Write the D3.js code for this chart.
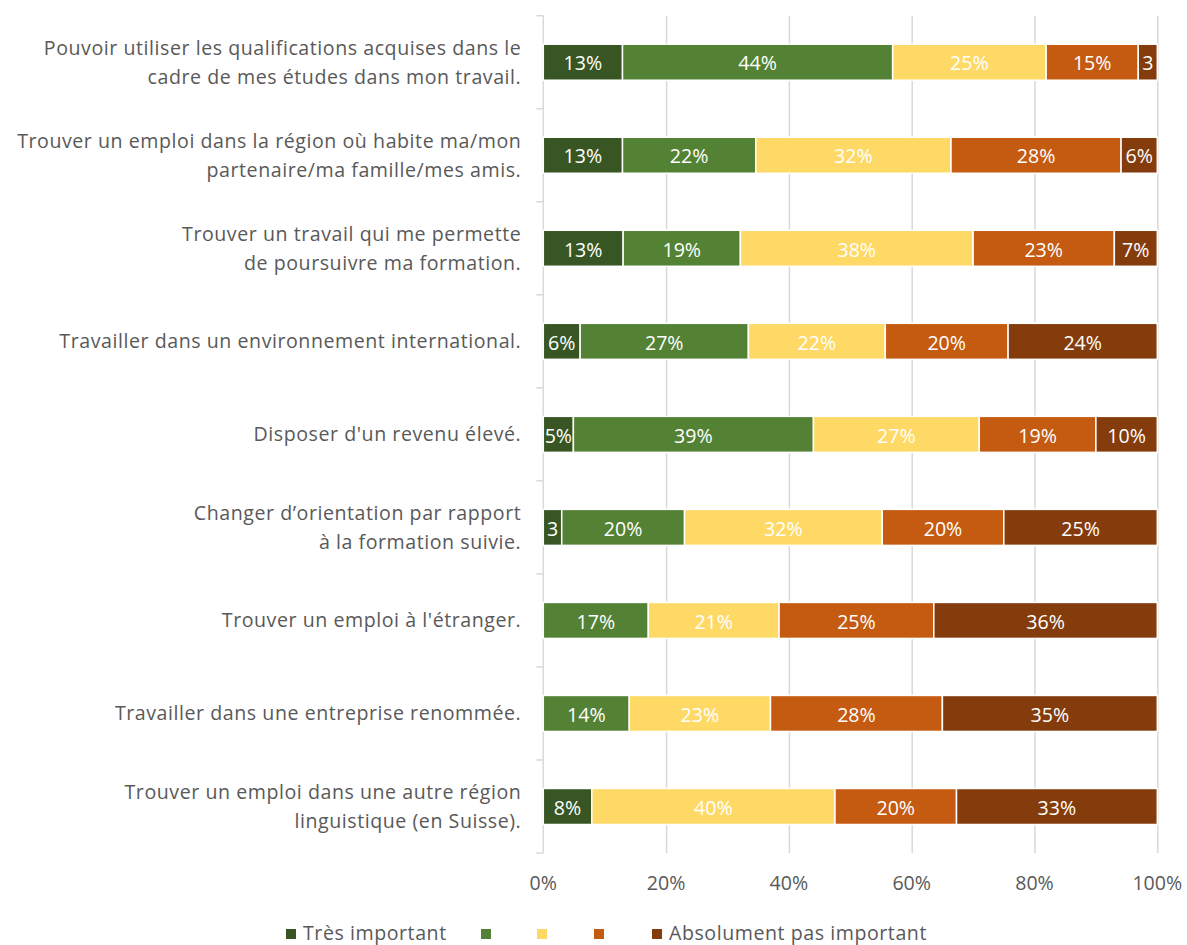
<!DOCTYPE html>
<html>
<head>
<meta charset="utf-8">
<script src="https://cdn.jsdelivr.net/npm/d3@7"></script>
<style>
  body { margin: 0; background: #fff; }
  text { font-family: "Open Sans", Lato, sans-serif; }
</style>
</head>
<body>
<div id="chart"></div>
<script>
"use strict";
(function() {

const WIDTH = 1187
const HEIGHT = 945
const margin = { top: 15.7, bottom: 92, left: 543.3, right: 29.7 }

const FONT_SIZE = 19.6
const SPACING = 0.55
const TEXT_COLOR = '#595959'
const GRID_COLOR = '#d9d9d9'

// categories, one array of lines per row
const categories = [
    ["Pouvoir utiliser les qualifications acquises dans le", "cadre de mes études dans mon travail."],
    ["Trouver un emploi dans la région où habite ma/mon", "partenaire/ma famille/mes amis."],
    ["Trouver un travail qui me permette", "de poursuivre ma formation."],
    ["Travailler dans un environnement international."],
    ["Disposer d'un revenu élevé."],
    ["Changer d’orientation par rapport", "à la formation suivie."],
    ["Trouver un emploi à l'étranger."],
    ["Travailler dans une entreprise renommée."],
    ["Trouver un emploi dans une autre région", "linguistique (en Suisse)."]
]

const seriesNames = ["Très important", "", "", "", "Absolument pas important"]
const colors = ['#375623', '#548235', '#ffd966', '#c55a11', '#843c0c']

// percentages per series
const tresImportant = [12.9, 12.9, 13.0, 6.0, 4.9, 3.0, 0, 0, 7.9]
const important     = [44.0, 21.7, 19.1, 27.4, 39.1, 20.0, 17.1, 14.0, 0]
const moyen         = [25.0, 31.8, 37.9, 22.3, 27.0, 32.2, 21.3, 23.0, 39.6]
const peuImportant  = [15.0, 27.7, 23.0, 20.0, 19.0, 19.8, 25.2, 28.0, 19.8]
const pasImportant  = [3.1, 5.9, 7.0, 24.3, 10.0, 25.0, 36.4, 35.0, 32.7]

const xTicks = [0, 20, 40, 60, 80, 100]

const series = [tresImportant, important, moyen, peuImportant, pasImportant]

let rows = categories.map((c, i) => {
    let r = { idx: i }
    series.forEach((s, k) => { r['s' + k] = s[i] })
    return r
})
let keys = series.map((s, k) => 's' + k)
let stacked = d3.stack().keys(keys)(rows)

var svg = d3.select("#chart").append("svg")
    .attr("width", WIDTH)
    .attr("height", HEIGHT)

let plotBottom = 853

let x_scale = d3.scaleLinear().domain([0, 100]).range([margin.left, WIDTH - margin.right])
let y_scale = d3.scaleBand().domain(d3.range(categories.length))
    .range([margin.top, plotBottom])
    .paddingInner(0.613).paddingOuter(0.3065)

// vertical gridlines
svg.append("g")
    .attr("transform", `translate(0, ${plotBottom})`)
    .call(d3.axisBottom(x_scale).tickValues(xTicks.slice(1)).tickSize(-(plotBottom - margin.top)).tickFormat(""))
    .call(g => g.select(".domain").remove())
    .call(g => g.selectAll("line").attr("stroke", GRID_COLOR).attr("stroke-width", 1.5))

// x tick labels
svg.append("g")
    .selectAll("text")
    .data(xTicks)
    .join("text")
    .attr("x", d => x_scale(d))
    .attr("y", 890)
    .attr("text-anchor", "middle")
    .attr("font-size", FONT_SIZE)
    .attr("fill", TEXT_COLOR)
    .text(d => d + "%")

// left axis line & ticks at band boundaries
let step = y_scale.step()
let boundaries = d3.range(categories.length + 1).map(i => margin.top + i * step)
svg.append("line")
    .attr("x1", x_scale(0)).attr("x2", x_scale(0))
    .attr("y1", margin.top).attr("y2", plotBottom)
    .attr("stroke", GRID_COLOR).attr("stroke-width", 1.5)
svg.append("g")
    .selectAll("line")
    .data(boundaries)
    .join("line")
    .attr("x1", x_scale(0) - 7).attr("x2", x_scale(0))
    .attr("y1", d => d).attr("y2", d => d)
    .attr("stroke", GRID_COLOR).attr("stroke-width", 1.5)

// bars
let layers = svg.append("g")
    .selectAll("g")
    .data(stacked)
    .join("g")
    .attr("fill", (d, k) => colors[k])

layers.selectAll("rect")
    .data(d => d.filter(p => p[1] - p[0] > 0))
    .join("rect")
    .attr("x", p => x_scale(p[0]))
    .attr("y", p => y_scale(p.data.idx))
    .attr("width", p => x_scale(p[1]) - x_scale(p[0]))
    .attr("height", y_scale.bandwidth())
    .attr("stroke", "white")
    .attr("stroke-width", 1.5)

// data labels
layers.selectAll("text")
    .data(d => d.filter(p => p[1] - p[0] > 0))
    .join("text")
    .attr("x", p => (x_scale(p[0]) + x_scale(p[1])) / 2)
    .attr("y", p => y_scale(p.data.idx) + y_scale.bandwidth() / 2)
    .attr("dy", "0.42em")
    .attr("text-anchor", "middle")
    .attr("font-size", FONT_SIZE)
    .attr("fill", "white")
    .text(p => {
        let v = Math.round(p[1] - p[0])
        let w = x_scale(p[1]) - x_scale(p[0])
        return w < 24 ? String(v) : v + "%"
    })

// category labels
let catG = svg.append("g")
    .selectAll("text")
    .data(categories)
    .join("text")
    .attr("text-anchor", "end")
    .attr("font-size", FONT_SIZE)
    .attr("letter-spacing", SPACING)
    .attr("fill", TEXT_COLOR)
    .attr("transform", (d, i) => `translate(${x_scale(0) - 22}, ${y_scale(i) + y_scale.bandwidth() / 2})`)

catG.selectAll("tspan")
    .data(d => d.map((line, j) => ({ line: line, j: j, n: d.length })))
    .join("tspan")
    .attr("x", 0)
    .attr("y", t => (t.j - (t.n - 1) / 2) * 29)
    .attr("dy", "0.35em")
    .text(t => t.line)

// legend
let legendX = [286, 481, 537, 594, 652]
let legend = svg.append("g")
    .selectAll("g")
    .data(seriesNames)
    .join("g")
    .attr("transform", (d, k) => `translate(${legendX[k]}, 934)`)

legend.append("rect")
    .attr("x", 0).attr("y", -5)
    .attr("width", 10).attr("height", 10)
    .attr("fill", (d, k) => colors[k])

legend.append("text")
    .attr("x", 17)
    .attr("y", 6)
    .attr("font-size", FONT_SIZE)
    .attr("letter-spacing", SPACING)
    .attr("fill", TEXT_COLOR)
    .text(d => d)

})();
</script>
</body>
</html>
